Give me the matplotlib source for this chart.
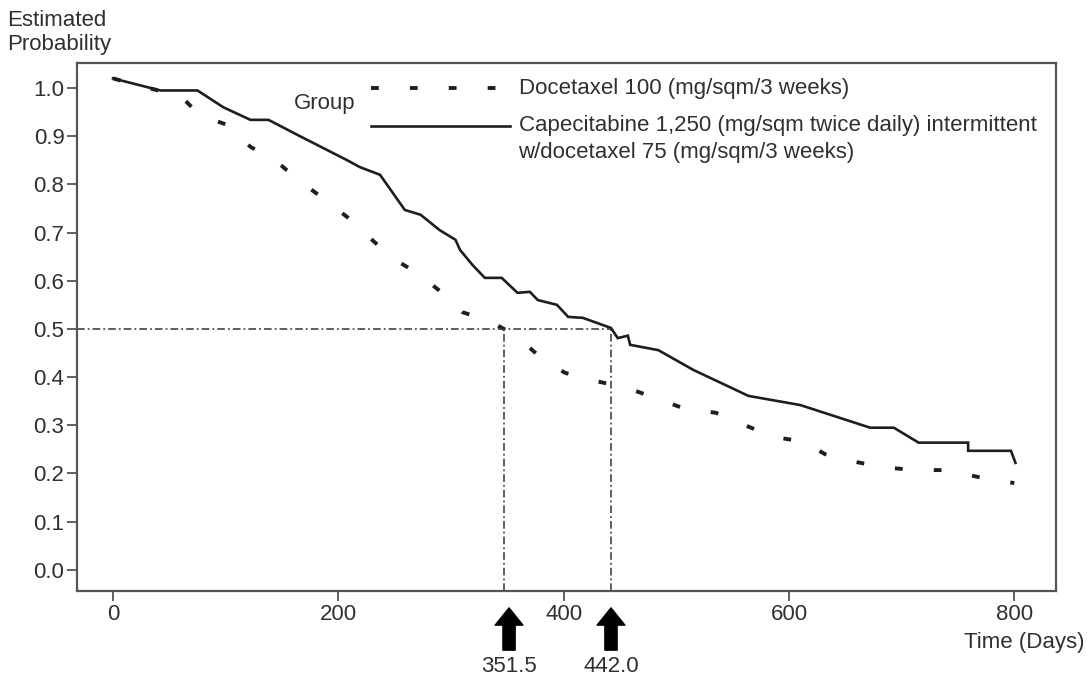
import matplotlib
matplotlib.use("Agg")
import matplotlib.pyplot as plt
from matplotlib.lines import Line2D

# ---- data ----
cape_days = [0, 42, 75, 98, 122, 138, 166, 208, 219, 237, 259, 273, 290, 304, 308, 319, 330, 345,
             359, 370, 377, 394, 404, 417, 442, 448, 457, 459, 484, 515, 564, 610, 672, 693, 715,
             759, 759, 797, 801]
cape_prob = [1.02, 0.995, 0.995, 0.96, 0.934, 0.934, 0.90, 0.85, 0.836, 0.82, 0.747, 0.737, 0.705,
             0.685, 0.664, 0.633, 0.606, 0.606, 0.575, 0.577, 0.56, 0.55, 0.525, 0.523, 0.502, 0.481,
             0.486, 0.467, 0.456, 0.415, 0.361, 0.342, 0.295, 0.295, 0.264, 0.264, 0.247, 0.247, 0.222]
doce_days = [0, 40, 58, 77, 102, 122, 144, 164, 186, 208, 228, 248, 270, 290, 310, 335, 347, 359,
             379, 401, 428, 456, 483, 508, 535, 561, 586, 613, 632, 659, 686, 714, 741, 767, 800]
doce_prob = [1.02, 0.995, 0.988, 0.944, 0.923, 0.878, 0.85, 0.81, 0.772, 0.732, 0.689, 0.647, 0.616,
             0.579, 0.535, 0.515, 0.50, 0.483, 0.442, 0.409, 0.392, 0.378, 0.355, 0.334, 0.326, 0.30,
             0.276, 0.266, 0.24, 0.224, 0.212, 0.207, 0.207, 0.193, 0.18]
median_labels = ["351.5", "442.0"]
median_arrow_x = [351.5, 442.0]
median_line_x = [347.0, 442.0]
median_level = 0.5
x_ticks = [0, 200, 400, 600, 800]
y_ticks = [0.0, 0.1, 0.2, 0.3, 0.4, 0.5, 0.6, 0.7, 0.8, 0.9, 1.0]
label_doce = "Docetaxel 100 (mg/sqm/3 weeks)"
label_cape = "Capecitabine 1,250 (mg/sqm twice daily) intermittent\nw/docetaxel 75 (mg/sqm/3 weeks)"

plt.rcParams['font.family'] = ['Liberation Sans', 'DejaVu Sans']
txt = '#303030'
frame = '#555555'
ink = '#1e1e1e'
FS = 16

fig = plt.figure(figsize=(10.87, 6.79), dpi=100)
ax = fig.add_axes([0.0708, 0.1296, 0.9007, 0.7776])
ax.set_xlim(-32, 837)
ax.set_ylim(-0.044, 1.052)

ax.plot(cape_days, cape_prob, color=ink, lw=1.9, solid_joinstyle='miter')
ax.plot(doce_days, doce_prob, color=ink, lw=2.8, linestyle=(0, (2.0, 8.0)), dash_capstyle='butt')

# median reference lines
dd = (0, (5, 2, 1.2, 2))
ax.plot([-32, median_line_x[1]], [median_level, median_level], color='#333333', lw=1.1, linestyle=dd)
for mx in median_line_x:
    ax.plot([mx, mx], [-0.044, median_level], color='#333333', lw=1.1, linestyle=dd)

# arrows below axis
for m, lab in zip(median_arrow_x, median_labels):
    ax.annotate('', xy=(m, -0.032), xycoords=('data', 'axes fraction'),
                xytext=(m, -0.112), textcoords=('data', 'axes fraction'),
                arrowprops=dict(arrowstyle='simple,head_length=0.62,head_width=1.0,tail_width=0.44',
                                mutation_scale=20, color='black', shrinkA=0, shrinkB=0),
                annotation_clip=False)
    ax.text(m, -0.124, lab, transform=ax.get_xaxis_transform(), ha='center', va='top',
            fontsize=FS, color=txt, clip_on=False)

ax.set_xticks(x_ticks)
ax.set_xticklabels([str(v) for v in x_ticks])
ax.set_yticks(y_ticks)
ax.set_yticklabels([f"{v:.1f}" for v in y_ticks])
ax.tick_params(direction='out', length=7, width=1.3, color=frame, labelsize=FS,
               labelcolor=txt, pad=2)
for s in ax.spines.values():
    s.set_color(frame)
    s.set_linewidth(1.6)

# legend drawn manually
ax.text(0.253, 0.924, "Group", transform=ax.transAxes, ha='center', va='center',
        fontsize=FS, color=txt)
ax.add_line(Line2D([0.3, 0.437], [0.953, 0.953], transform=ax.transAxes, color=ink, lw=2.8,
                   linestyle=(0, (2.0, 8.0)), dash_capstyle='butt'))
ax.add_line(Line2D([0.3, 0.442], [0.881, 0.881], transform=ax.transAxes, color=ink, lw=1.9))
ax.text(0.451, 0.951, label_doce, transform=ax.transAxes, ha='left', va='center',
        fontsize=FS, color=txt)
ax.text(0.451, 0.901, label_cape, transform=ax.transAxes, ha='left', va='top',
        fontsize=FS, color=txt, linespacing=1.38)

fig.text(0.007, 0.985, "Estimated\nProbability", ha='left', va='top', fontsize=FS,
         color=txt, linespacing=1.15)
fig.text(0.998, 0.054, "Time (Days)", ha='right', va='center', fontsize=FS, color=txt)

fig.savefig("out.png", dpi=100)
